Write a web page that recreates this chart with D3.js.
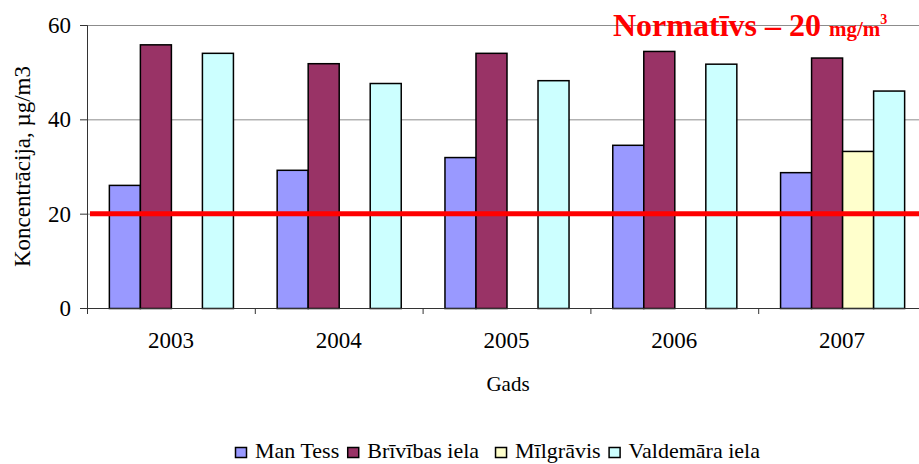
<!DOCTYPE html>
<html>
<head>
<meta charset="utf-8">
<script src="https://cdn.jsdelivr.net/npm/d3@7"></script>
<style>
  body { margin: 0; background: #fff; }
  svg { display: block; }
</style>
</head>
<body>
<div id="chart"></div>
<script>
// data
var years = ["2003", "2004", "2005", "2006", "2007"];
var seriesNames = ["Man Tess", "Brīvības iela", "Mīlgrāvis", "Valdemāra iela"];
var seriesColors = ["#9999ff", "#993366", "#ffffcc", "#ccffff"];
var manTess = [26.1, 29.3, 32.0, 34.6, 28.8];
var brivibas = [55.9, 51.9, 54.1, 54.5, 53.1];
var milgravis = [null, null, null, null, 33.3];
var valdemara = [54.1, 47.7, 48.3, 51.8, 46.1];
var yTicks = [0, 20, 40, 60];
var norm = 20;

var values = [manTess, brivibas, milgravis, valdemara];
var serif = "Liberation Serif";

var W = 919, H = 464;
var margin = {top: 25, left: 87, bottom: 156};
var plotBottom = H - margin.bottom;  // 308
var plotRight = 926; // plot runs past the edge of the picture

var svg = d3.select("#chart").append("svg")
    .attr("width", W)
    .attr("height", H)
    .attr("font-family", serif);

var x = d3.scaleBand()
    .domain(years)
    .range([margin.left, plotRight])
    .padding(0);

var xs = d3.scaleBand()
    .domain(d3.range(seriesNames.length))
    .range([0, x.bandwidth()])
    .paddingInner(0)
    .paddingOuter(0.705);

var y = d3.scaleLinear()
    .domain([0, 60])
    .range([plotBottom, margin.top]);

// gridlines
svg.append("g")
  .selectAll("line")
  .data(yTicks.filter(function(d) { return d > 0; }))
  .enter().append("line")
    .attr("x1", margin.left)
    .attr("x2", W)
    .attr("y1", function(d) { return y(d) + 0.5; })
    .attr("y2", function(d) { return y(d) + 0.5; })
    .attr("stroke", "#8c8c8c")
    .attr("stroke-width", 1);

// bars
var groups = svg.append("g").selectAll("g")
    .data(years)
    .enter().append("g")
    .attr("transform", function(d) { return "translate(" + x(d) + ",0)"; });

groups.selectAll("rect")
    .data(function(d, i) {
      return values.map(function(v, s) { return {s: s, v: v[i]}; })
        .filter(function(o) { return o.v != null; });
    })
    .enter().append("rect")
    .attr("x", function(d) { return xs(d.s) + 0.5; })
    .attr("y", function(d) { return y(d.v) + 0.5; })
    .attr("width", xs.bandwidth())
    .attr("height", function(d) { return plotBottom - y(d.v); })
    .attr("fill", function(d) { return seriesColors[d.s]; })
    .attr("stroke", "#000")
    .attr("stroke-width", 1.5);

// y axis
var yAxis = svg.append("g")
    .attr("transform", "translate(" + margin.left + ",0)")
    .call(d3.axisLeft(y).tickValues(yTicks).tickSize(7).tickPadding(9));
yAxis.attr("font-family", serif).attr("font-size", 23);
yAxis.select(".domain").attr("stroke", "#333");
yAxis.selectAll(".tick line").attr("stroke", "#333");
yAxis.selectAll("text").attr("fill", "#000");

// x axis
var xAxis = svg.append("g")
    .attr("transform", "translate(0," + plotBottom + ")")
    .call(d3.axisBottom(x).tickSize(0).tickPadding(24));
xAxis.attr("font-family", serif).attr("font-size", 23);
xAxis.select(".domain").attr("stroke", "#333");
xAxis.selectAll("text").attr("fill", "#000");
xAxis.selectAll(".sep")
    .data(years)
    .enter().append("line")
    .attr("class", "sep")
    .attr("x1", function(d) { return x(d) + 0.5; })
    .attr("x2", function(d) { return x(d) + 0.5; })
    .attr("y1", 0)
    .attr("y2", 6)
    .attr("stroke", "#333");

// norm line
svg.append("line")
    .attr("x1", margin.left + 3)
    .attr("x2", W)
    .attr("y1", y(norm))
    .attr("y2", y(norm))
    .attr("stroke", "#ff0000")
    .attr("stroke-width", 5);

// norm label
var lbl = svg.append("text")
    .attr("x", 613)
    .attr("y", 36)
    .attr("fill", "#ff0000")
    .attr("font-weight", "bold")
    .attr("font-size", "32px");
lbl.append("tspan").text("Normatīvs – 20 ");
lbl.append("tspan").attr("font-size", "21px").text("mg/m");
lbl.append("tspan").attr("font-size", "14px").attr("dy", -12).text("3");

// axis titles
svg.append("text")
    .attr("transform", "translate(30," + ((margin.top + plotBottom) / 2) + ") rotate(-90)")
    .attr("text-anchor", "middle")
    .attr("font-size", "23px")
    .text("Koncentrācija, µg/m3");

svg.append("text")
    .attr("x", 508)
    .attr("y", 391)
    .attr("text-anchor", "middle")
    .attr("font-size", "21px")
    .text("Gads");

// legend
var legend = svg.append("g").attr("transform", "translate(235,458)");
var lx = 0;
seriesNames.forEach(function(name, i) {
  var it = legend.append("g").attr("transform", "translate(" + lx + ",0)");
  it.append("rect")
      .attr("x", 0.5)
      .attr("y", -10.5)
      .attr("width", 11)
      .attr("height", 10)
      .attr("fill", seriesColors[i])
      .attr("stroke", "#000")
      .attr("stroke-width", 1.5);
  var t = it.append("text")
      .attr("x", 20)
      .attr("y", 0)
      .attr("font-size", "22px")
      .text(name);
  lx += 20 + t.node().getComputedTextLength() + (i == 1 ? 16 : 8);
});
</script>
</body>
</html>
